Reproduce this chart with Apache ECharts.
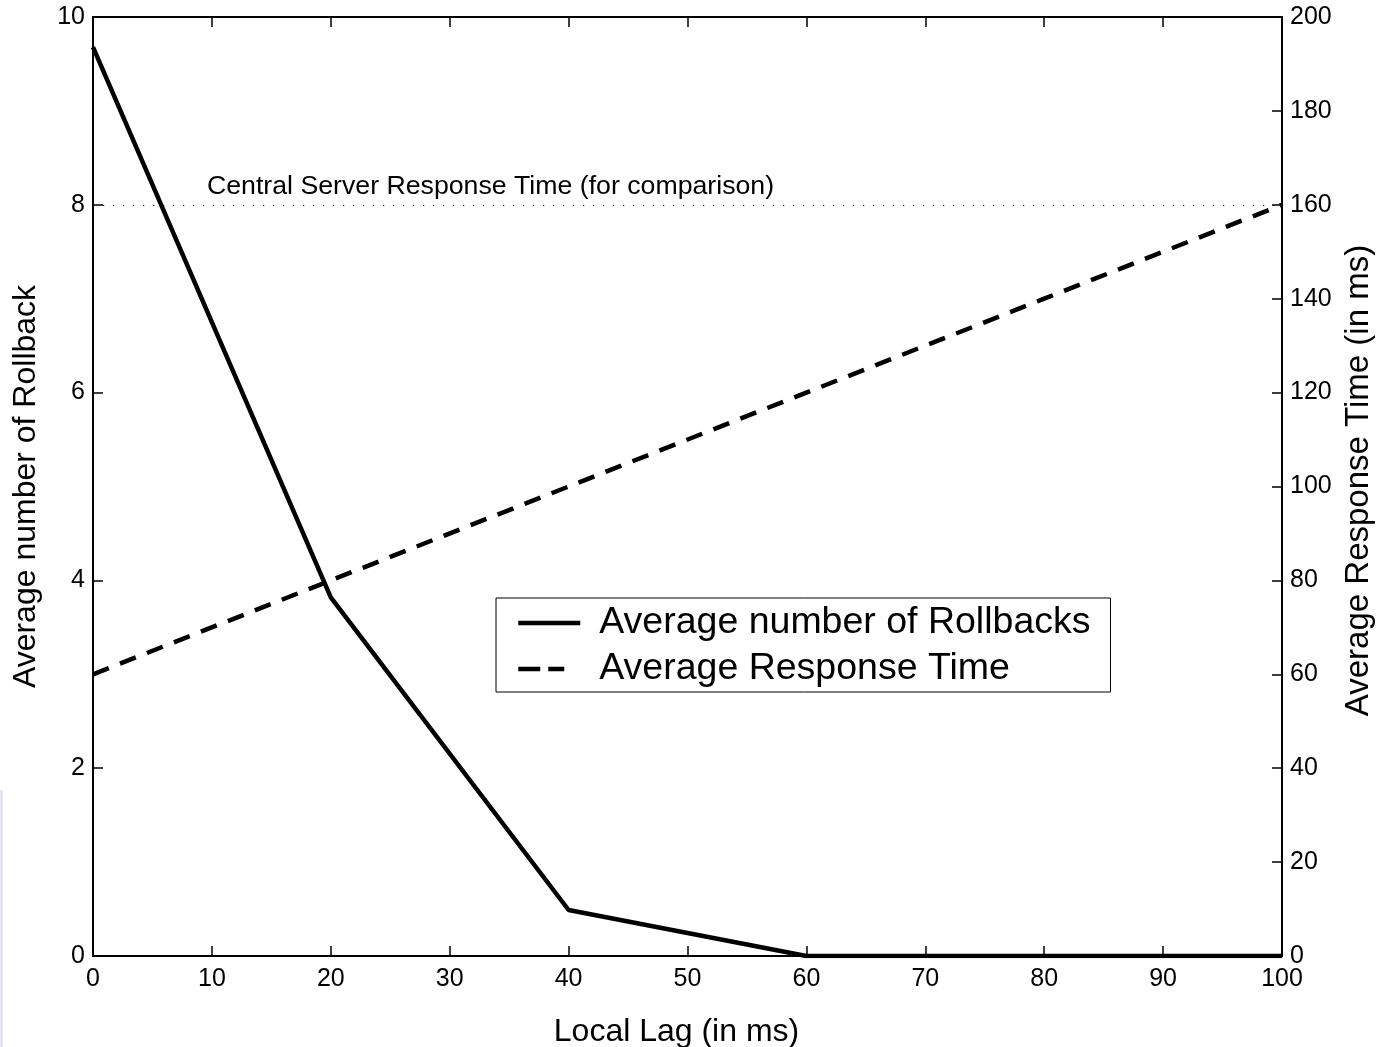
<!DOCTYPE html>
<html>
<head>
<meta charset="utf-8">
<script src="https://cdn.jsdelivr.net/npm/echarts@6/dist/echarts.min.js"></script>
<style>html,body{margin:0;padding:0;background:#fff;}#main{width:1383px;height:1047px;}</style>
</head>
<body>
<div id="main"></div>
<script>
var lagValues = [0, 20, 40, 60, 80, 100];
var rollbacks = [9.68, 3.82, 0.49, 0, 0, 0];
var responseTime = [60, 80, 100, 120, 140, 160];
var centralServerTime = 160;
var xTicks = [0, 10, 20, 30, 40, 50, 60, 70, 80, 90, 100];
var leftTicks = [0, 2, 4, 6, 8, 10];
var rightTicks = [0, 20, 40, 60, 80, 100, 120, 140, 160, 180, 200];

var FONT = 'Liberation Sans, Arial, Helvetica, sans-serif';
var chart = echarts.init(document.getElementById('main'));
function pairs(xs, ys) { return xs.map(function (x, i) { return [x, ys[i]]; }); }

var axisLineStyle = { show: true, onZero: false, lineStyle: { color: '#000', width: 2 } };
var tickStyle = { show: true, inside: true, length: 10, lineStyle: { color: '#000', width: 1.5 } };

chart.setOption({
  backgroundColor: '#fff',
  animation: false,
  textStyle: { fontFamily: FONT, color: '#000' },
  grid: { left: 93, right: 101, top: 17, bottom: 91, containLabel: false, outerBoundsMode: 'none' },
  legend: {
    orient: 'vertical',
    left: 496, top: 598,
    padding: [6, 20, 4, 20],
    itemWidth: 62, itemHeight: 16, itemGap: 8,
    borderColor: '#000', borderWidth: 1,
    backgroundColor: '#fff',
    itemStyle: { opacity: 0 },
    lineStyle: { width: 4.5, color: '#000', type: 'inherit' },
    textStyle: { fontFamily: FONT, fontSize: 37.5, color: '#000', padding: [0, 0, 0, 14] },
    data: [
      { name: 'Average number of Rollbacks' },
      { name: 'Average Response Time', lineStyle: { width: 4.5, color: '#000', type: [22, 8, 16, 100] } }
    ]
  },
  xAxis: [{
    type: 'value', min: xTicks[0], max: xTicks[xTicks.length - 1], interval: 10,
    position: 'bottom',
    name: 'Local Lag (in ms)', nameLocation: 'middle', nameGap: 60,
    nameTextStyle: { fontSize: 32, fontFamily: FONT, color: '#000', padding: [0, 22, 0, 0] },
    axisLine: axisLineStyle,
    axisTick: tickStyle,
    axisLabel: { fontSize: 25, color: '#000', margin: 11 },
    splitLine: { show: false }
  }, {
    type: 'value', min: xTicks[0], max: xTicks[xTicks.length - 1], interval: 10,
    position: 'top',
    axisLine: axisLineStyle,
    axisTick: tickStyle,
    axisLabel: { show: false },
    splitLine: { show: false }
  }],
  yAxis: [{
    type: 'value', min: leftTicks[0], max: leftTicks[leftTicks.length - 1], interval: 2,
    position: 'left',
    name: 'Average number of Rollback', nameLocation: 'middle', nameGap: 51,
    nameTextStyle: { fontSize: 32, fontFamily: FONT, color: '#000' },
    axisLine: axisLineStyle,
    axisTick: tickStyle,
    axisLabel: { fontSize: 25, color: '#000', margin: 8 },
    splitLine: { show: false }
  }, {
    type: 'value', min: rightTicks[0], max: rightTicks[rightTicks.length - 1], interval: 20,
    position: 'right',
    name: 'Average Response Time (in ms)', nameLocation: 'middle', nameGap: 60,
    nameTextStyle: { fontSize: 33, fontFamily: FONT, color: '#000', padding: [0, 0, 0, 12] },
    axisLine: axisLineStyle,
    axisTick: tickStyle,
    axisLabel: { fontSize: 25, color: '#000', margin: 8 },
    splitLine: { show: false }
  }],
  series: [{
    name: 'Average number of Rollbacks',
    type: 'line', xAxisIndex: 0, yAxisIndex: 0,
    data: pairs(lagValues, rollbacks),
    symbol: 'none', color: '#000',
    lineStyle: { color: '#000', width: 4.5 }
  }, {
    name: 'Average Response Time',
    type: 'line', xAxisIndex: 0, yAxisIndex: 1,
    data: pairs(lagValues, responseTime),
    symbol: 'none', color: '#000',
    lineStyle: { color: '#000', width: 4.5, type: [17, 12] },
    markLine: {
      silent: true, symbol: 'none',
      lineStyle: { color: '#000', width: 1, type: [1.2, 8.8] },
      label: {
        show: true, position: 'insideStartTop', distance: [114, 5],
        formatter: 'Central Server Response Time (for comparison)',
        fontSize: 26.7, fontFamily: FONT, color: '#000'
      },
      data: [{ yAxis: centralServerTime }]
    }
  }],
  graphic: [{
    type: 'line', shape: { x1: 1.5, y1: 790, x2: 1.5, y2: 1047 },
    style: { stroke: '#d8d8ee', lineWidth: 2 }, silent: true
  }]
});
</script>
</body>
</html>
